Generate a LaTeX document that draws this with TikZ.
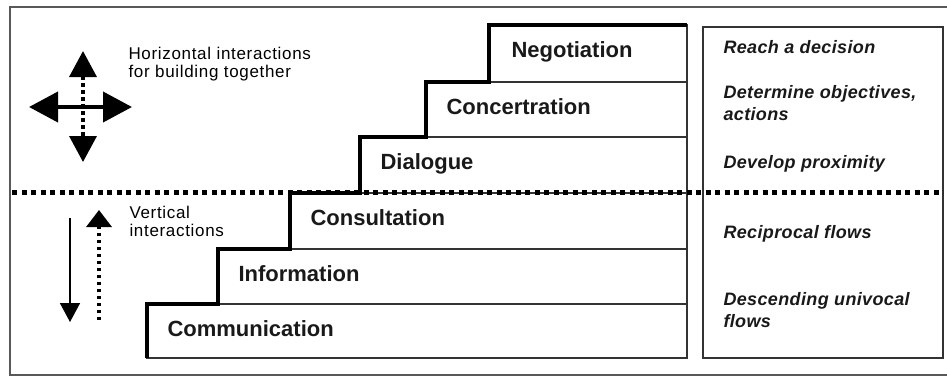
\documentclass[tikz,border=0pt]{standalone}
\usepackage{fontspec}
\setmainfont{Liberation Sans}
\newfontfamily\labelfont[LetterSpace=4]{Liberation Sans}
\newfontfamily\aimfont[LetterSpace=2]{Liberation Sans}
\usetikzlibrary{arrows.meta, positioning}

\begin{document}
\begin{tikzpicture}[x=1pt, y=-1pt,
    stepbox/.style={draw=black!80, line width=1.2pt, inner sep=0pt, outer sep=0pt, anchor=south east},
    steptext/.style={anchor=base west, font=\fontsize{22}{26}\selectfont\bfseries, text=black!90},
    aim/.style={anchor=base west, align=left, font=\aimfont\fontsize{18}{22}\selectfont\bfseries\itshape, text=black!90},
    note/.style={anchor=base west, align=left, font=\labelfont\fontsize{17}{18}\selectfont, text=black},
    stair/.style={line width=3.5pt, line join=miter},
    dots/.style={line width=3.5pt, dash pattern=on 3.5pt off 3.5pt},
    ]
    \useasboundingbox (0,0) rectangle (947,376);

    % outer frame
    \draw[black!65, line width=1.5pt] (10,7) rectangle (960,375);

    % Steps, bottom to top
    \node[stepbox, minimum width=540pt, minimum height=54pt] (comm) at (687,358) {};
    \node[stepbox, minimum width=469pt, minimum height=55pt] (info) at (comm.north east) {};
    \node[stepbox, minimum width=397pt, minimum height=56pt] (consult) at (info.north east) {};
    \node[stepbox, minimum width=327pt, minimum height=56pt] (dialog) at (consult.north east) {};
    \node[stepbox, minimum width=261pt, minimum height=55pt] (concert) at (dialog.north east) {};
    \node[stepbox, minimum width=198pt, minimum height=57pt] (nego) at (concert.north east) {};

    % Step labels
    \node[steptext] at ([xshift=17pt, yshift=-32pt]comm.north west) {Communication};
    \node[steptext] at ([xshift=17pt, yshift=-32pt]info.north west) {Information};
    \node[steptext] at ([xshift=17pt, yshift=-32pt]consult.north west) {Consultation};
    \node[steptext] at ([xshift=17pt, yshift=-32pt]dialog.north west) {Dialogue};
    \node[steptext] at ([xshift=17pt, yshift=-32pt]concert.north west) {Concertration};
    \node[steptext] at ([xshift=19pt, yshift=-32pt]nego.north west) {Negotiation};

    % Staircase outline
    \draw[stair] (comm.south west) -- (comm.north west) -- (info.south west) -- (info.north west)
      -- (consult.south west) -- (consult.north west) -- (dialog.south west) -- (dialog.north west)
      -- (concert.south west) -- (concert.north west) -- (nego.south west) -- (nego.north west)
      -- (nego.north east);

    % Aims box (base anchor of two-line nodes is the last line)
    \node[draw=black!80, line width=1.5pt, minimum width=240pt, minimum height=331pt, inner sep=0pt,
      outer sep=0pt, anchor=north west] (aims) at (703,27) {};
    \node[aim] (reach) at (720,53) {Reach a decision};
    \node[aim] (determine) at (720,120) {Determine objectives,\\actions};
    \node[aim] (proximity) at (720,168) {Develop proximity};
    \node[aim] (reciprocal) at (720,238) {Reciprocal flows};
    \node[aim] (descending) at (720,327) {Descending univocal\\flows};

    % Divider
    \draw[dots, line width=5pt, dash pattern=on 5pt off 4.5pt] (12,192) -- (943,192);

    % Horizontal interactions
    \node[note] (horiz) at (125,77) {Horizontal interactions\\for building together};
    \coordinate (hwest) at (29,107);
    \coordinate (heast) at (132,107);
    \coordinate (hnorth) at (83,51);
    \coordinate (hsouth) at (83,162);
    \draw[line width=4pt, {Triangle[length=29pt, width=30pt]}-{Triangle[length=29pt, width=30pt]}] (hwest) -- (heast);
    \draw[dots, {Triangle[length=26pt, width=27pt]}-{Triangle[length=26pt, width=27pt]}] (hnorth) -- (hsouth);

    % Vertical interactions
    \node[note] (vert) at (126,236) {Vertical\\interactions};
    \coordinate (downtop) at (70,218);
    \coordinate (downend) at (70,322);
    \coordinate (upbottom) at (99,320);
    \coordinate (uptop) at (99,210);
    \draw[line width=1.5pt, -{Triangle[length=19pt, width=20pt]}] (downtop) -- (downend);
    \draw[dots, -{Triangle[length=17pt, width=25pt]}] (upbottom) -- (uptop);
\end{tikzpicture}
\end{document}
